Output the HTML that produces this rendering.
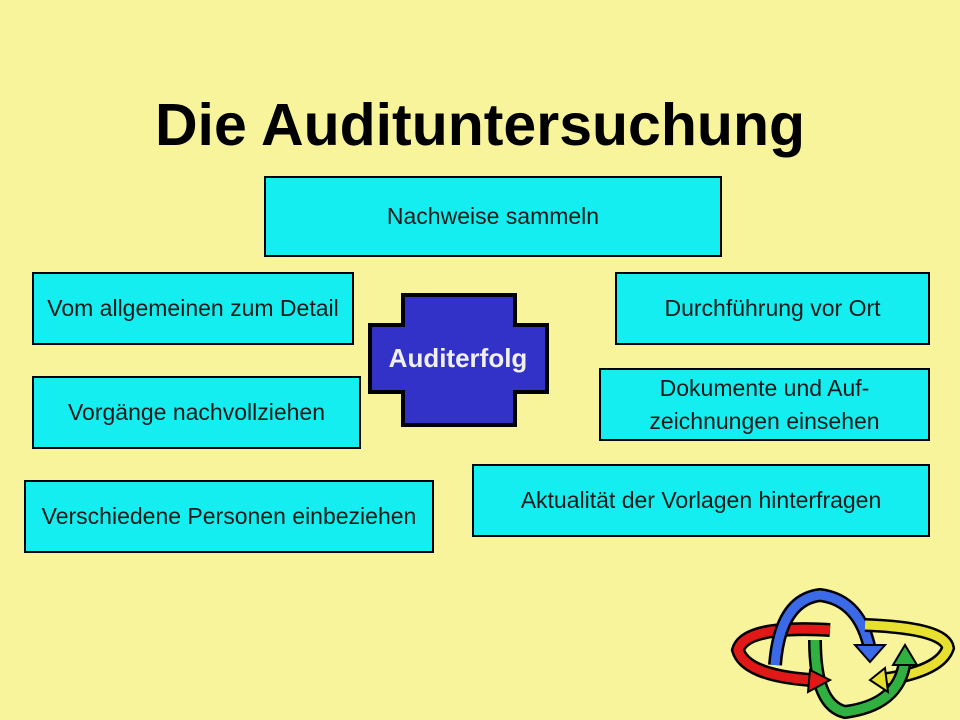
<!DOCTYPE html>
<html><head><meta charset="utf-8"><style>
body{margin:0;width:960px;height:720px;background:#f8f49c;position:relative;overflow:hidden;font-family:"Liberation Sans",sans-serif}
.b{position:absolute;box-sizing:border-box;background:#14eef0;border:2px solid #000;display:flex;align-items:center;justify-content:center;text-align:center;font-size:23px;color:#1a1a1a;line-height:1.4;white-space:nowrap}
h1{position:absolute;left:0;width:960px;top:91px;margin:0;text-align:center;font-size:59px;font-weight:bold;color:#000}
</style></head><body>
<h1>Die Audituntersuchung</h1>
<div class="b" style="left:264px;top:176px;width:458px;height:81px">Nachweise sammeln</div>
<div class="b" style="left:32px;top:272px;width:322px;height:73px">Vom allgemeinen zum Detail</div>
<div class="b" style="left:615px;top:272px;width:315px;height:73px">Durchführung vor Ort</div>
<div class="b" style="left:32px;top:376px;width:329px;height:73px">Vorgänge nachvollziehen</div>
<div class="b" style="left:599px;top:368px;width:331px;height:73px">Dokumente und Auf-<br>zeichnungen einsehen</div>
<div class="b" style="left:24px;top:480px;width:410px;height:73px">Verschiedene Personen einbeziehen</div>
<div class="b" style="left:472px;top:464px;width:458px;height:73px">Aktualität der Vorlagen hinterfragen</div>
<svg style="position:absolute;left:0;top:0" width="960" height="720">
<polygon points="403,295 515,295 515,325 547,325 547,392 515,392 515,425 403,425 403,392 370,392 370,325 403,325" fill="#3232c8" stroke="#000" stroke-width="4"/>
<text x="458" y="367" text-anchor="middle" font-family="Liberation Sans,sans-serif" font-weight="bold" font-size="26" fill="#f0f0f0">Auditerfolg</text>
<g stroke="#000" stroke-width="3" fill="none">
<path d="M830,630 Q745,625 738,650 Q745,675 810,680" stroke="#000" stroke-width="14"/>
<path d="M830,630 Q745,625 738,650 Q745,675 810,680" stroke="#e01818" stroke-width="9"/>
<path d="M775,665 Q780,600 820,595 Q860,600 870,650" stroke="#000" stroke-width="14"/>
<path d="M775,665 Q780,600 820,595 Q860,600 870,650" stroke="#3a6ae8" stroke-width="9"/>
<path d="M865,625 Q945,628 948,648 Q940,672 880,680" stroke="#000" stroke-width="14"/>
<path d="M865,625 Q945,628 948,648 Q940,672 880,680" stroke="#e8e030" stroke-width="9"/>
<path d="M815,640 Q815,705 845,712 Q900,705 905,660" stroke="#000" stroke-width="14"/>
<path d="M815,640 Q815,705 845,712 Q900,705 905,660" stroke="#30b040" stroke-width="9"/>
</g>
<polygon points="810,670 830,680 808,692" fill="#e01818" stroke="#000" stroke-width="2"/>
<polygon points="855,645 885,645 870,662" fill="#3a6ae8" stroke="#000" stroke-width="2"/>
<polygon points="885,668 870,680 888,692" fill="#e8e030" stroke="#000" stroke-width="2"/>
<polygon points="893,665 917,665 905,645" fill="#30b040" stroke="#000" stroke-width="2"/>
</svg>
</body></html>
